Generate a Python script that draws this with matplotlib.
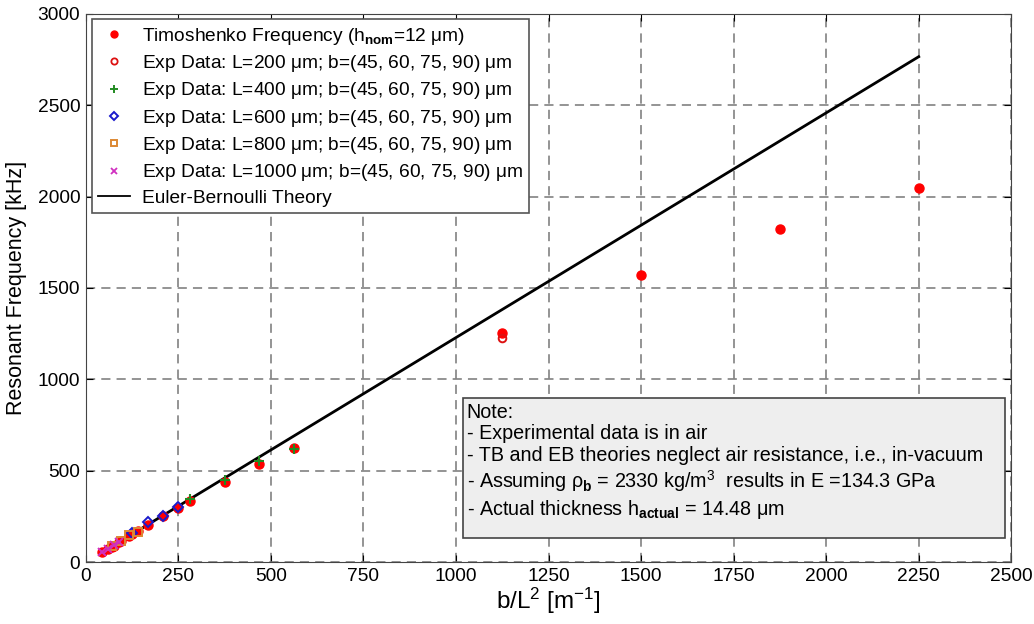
import matplotlib
matplotlib.use("Agg")
import matplotlib.pyplot as plt
from matplotlib.lines import Line2D
from matplotlib.patches import Rectangle

plt.rcParams['font.family'] = ['Liberation Sans', 'DejaVu Sans']
plt.rcParams['mathtext.fontset'] = 'custom'
plt.rcParams['mathtext.rm'] = 'Liberation Sans'
plt.rcParams['mathtext.it'] = 'Liberation Sans'
plt.rcParams['mathtext.bf'] = 'Liberation Sans:bold'

# b/L^2 [1/m] and frequency [kHz]
timo_x = [45, 60, 75, 90, 70.3, 93.75, 117.2, 140.6, 125, 166.7, 208.3, 250,
          281.25, 375, 468.75, 562.5, 1125, 1500, 1875, 2250]
timo_y = [55, 73, 91, 108, 86, 114, 142, 170, 152, 202, 252, 298,
          336, 437, 535, 627, 1254, 1573, 1823, 2046]

exp200_x = [1125]
exp200_y = [1225]
exp400_x = [281.25, 375, 468.75, 562.5]
exp400_y = [345, 450, 555, 622]
exp600_x = [125, 166.7, 208.3, 250]
exp600_y = [160, 220, 255, 303]
exp800_x = [70.3, 93.75, 117.2, 140.6]
exp800_y = [88, 118, 148, 168]
exp1000_x = [45, 60, 75, 90]
exp1000_y = [58, 75, 92, 110]

eb_x = [45, 2250]
eb_y = [55, 2765]

x_ticks = [0, 250, 500, 750, 1000, 1250, 1500, 1750, 2000, 2250, 2500]
y_ticks = [0, 500, 1000, 1500, 2000, 2500, 3000]

fig = plt.figure(figsize=(10.34, 6.24), dpi=100)
ax = fig.add_axes([0.083, 0.099, 0.895, 0.879])

ax.plot(eb_x, eb_y, '-', color='black', lw=2, zorder=3)
ax.plot(timo_x, timo_y, 'o', color='red', ms=6.5, mec='red', zorder=4)
ax.plot(exp200_x, exp200_y, 'o', mfc='none', mec='#dd1111', mew=1.4, ms=5.5, zorder=5)
ax.plot(exp400_x, exp400_y, '+', color='#228b22', mew=1.5, ms=7, zorder=5)
ax.plot(exp600_x, exp600_y, 'D', mfc='none', mec='#1a1acc', mew=1.4, ms=5, zorder=5)
ax.plot(exp800_x, exp800_y, 's', mfc='none', mec='#dd8833', mew=1.4, ms=5.5, zorder=5)
ax.plot(exp1000_x, exp1000_y, 'x', color='#d030c0', mew=1.4, ms=5.5, zorder=5)

ax.set_xlim(0, 2500)
ax.set_ylim(0, 3000)
ax.set_xticks(x_ticks)
ax.set_yticks(y_ticks)
ax.tick_params(direction='in', top=True, right=True, labelsize=13.8, length=5, pad=4)
ax.grid(True, ls=(0, (6, 4)), color='#777777', lw=1.1)
for s in ax.spines.values():
    s.set_color('#444444')

ax.set_xlabel(r'b/L$^2$ [m$^{-1}$]', fontsize=17.5, labelpad=1)
ax.set_ylabel('Resonant Frequency [kHz]', fontsize=15.5, labelpad=8)

handles = [
    Line2D([], [], ls='none', marker='o', color='red', ms=5),
    Line2D([], [], ls='none', marker='o', mfc='none', mec='#dd1111', mew=1.3, ms=4.5),
    Line2D([], [], ls='none', marker='+', color='#228b22', mew=1.4, ms=6),
    Line2D([], [], ls='none', marker='D', mfc='none', mec='#1a1acc', mew=1.4, ms=4.5),
    Line2D([], [], ls='none', marker='s', mfc='none', mec='#dd8833', mew=1.4, ms=4.5),
    Line2D([], [], ls='none', marker='x', color='#d030c0', mew=1.3, ms=4.5),
    Line2D([], [], ls='-', color='black', lw=1.3),
]
labels = [
    r'Timoshenko Frequency (h$_{\bf nom}$=12 $\mu$m)',
    r'Exp Data: L=200 $\mu$m; b=(45, 60, 75, 90) $\mu$m',
    r'Exp Data: L=400 $\mu$m; b=(45, 60, 75, 90) $\mu$m',
    r'Exp Data: L=600 $\mu$m; b=(45, 60, 75, 90) $\mu$m',
    r'Exp Data: L=800 $\mu$m; b=(45, 60, 75, 90) $\mu$m',
    r'Exp Data: L=1000 $\mu$m; b=(45, 60, 75, 90) $\mu$m',
    'Euler-Bernoulli Theory',
]
leg = ax.legend(handles, labels, loc='upper left', fontsize=13.8, frameon=True,
                fancybox=False, edgecolor='#555555', framealpha=1,
                borderaxespad=0.3, handlelength=1.7, handletextpad=0.6,
                labelspacing=0.33, borderpad=0.32)
leg.get_frame().set_linewidth(1.2)

# note box
ax.add_patch(Rectangle((0.4076, 0.0438), 0.5859, 0.2555, transform=ax.transAxes,
                       fc='#eeeeee', ec='#444444', lw=1.2, zorder=6))
note = ('Note:\n'
        '- Experimental data is in air\n'
        '- TB and EB theories neglect air resistance, i.e., in-vacuum\n'
        r'- Assuming $\rho_{\bf b}$ = 2330 kg/m$^3$  results in E =134.3 GPa' '\n'
        r'- Actual thickness h$_{\bf actual}$ = 14.48 $\mu$m')
ax.text(0.4115, 0.291, note, transform=ax.transAxes, fontsize=14.2,
        va='top', ha='left', linespacing=1.18, zorder=7)

fig.savefig('out.png', dpi=100)
